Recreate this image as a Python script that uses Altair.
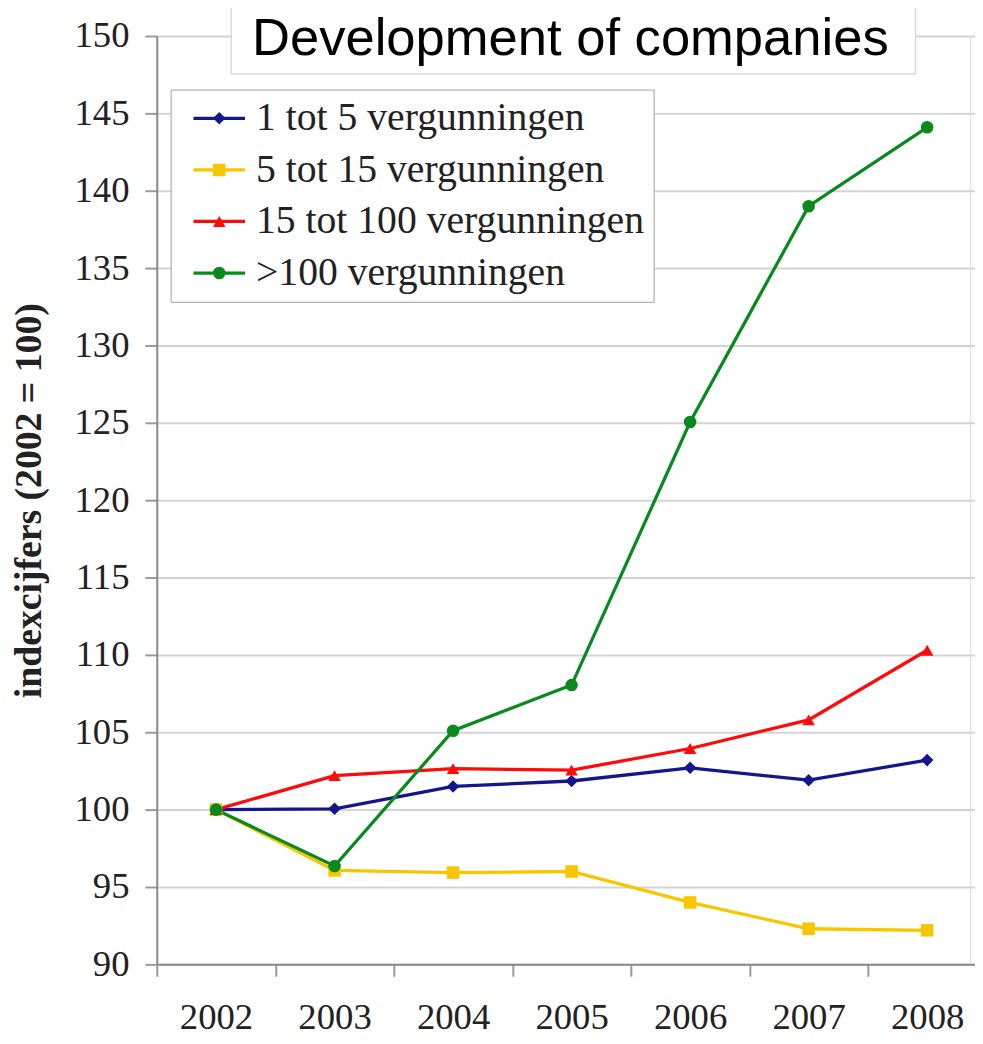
import altair as alt
import pandas as pd

years = ["2002", "2003", "2004", "2005", "2006", "2007", "2008"]
series_names = [
    "1 tot 5 vergunningen",
    "5 tot 15 vergunningen",
    "15 tot 100 vergunningen",
    ">100 vergunningen",
]
s_1_5 = [100.0, 100.05, 101.5, 101.85, 102.7, 101.9, 103.2]
s_5_15 = [100.0, 96.07, 95.93, 96.0, 94.0, 92.3, 92.2]
s_15_100 = [100.0, 102.2, 102.65, 102.55, 103.95, 105.8, 110.3]
s_100 = [100.0, 96.35, 105.1, 108.05, 125.05, 139.0, 144.1]
y_ticks = [90, 95, 100, 105, 110, 115, 120, 125, 130, 135, 140, 145, 150]
title_text = "Development of companies"

colors = ["#14168c", "#f7c600", "#ff0a0a", "#0a8a1e"]
shapes = ["diamond", "square", "triangle-up", "circle"]

rows = []
for name, vals in zip(series_names, [s_1_5, s_5_15, s_15_100, s_100]):
    for yr, v in zip(years, vals):
        rows.append({"year": yr, "value": v, "series": name})
df = pd.DataFrame(rows)

SERIF = "Liberation Serif"

x_enc = alt.X(
    "year:N",
    sort=years,
    scale=alt.Scale(type="band", range=[0, 836.5], paddingInner=0, paddingOuter=0),
    axis=alt.Axis(
        title=None, labelAngle=0, tickBand="extent", grid=False,
        labelFont=SERIF, labelFontSize=37, labelColor="#222",
        labelPadding=24, tickSize=12, tickWidth=2, tickColor="#9a9a9a",
        domainColor="#8a8a8a", domainWidth=2,
    ),
)
y_enc = alt.Y(
    "value:Q",
    scale=alt.Scale(domain=[90, 150], nice=False, zero=False),
    axis=alt.Axis(
        values=y_ticks, title="indexcijfers (2002 = 100)",
        titleFont=SERIF, titleFontSize=38, titleFontWeight="bold", titleColor="#222",
        titlePadding=26,
        labelFont=SERIF, labelFontSize=37, labelColor="#222", labelPadding=16,
        tickSize=12, tickWidth=2, tickColor="#9a9a9a",
        gridColor="#d4d4d4", gridWidth=2,
        domainColor="#8a8a8a", domainWidth=2,
    ),
)

legend_common = dict(
    orient="none", title=None, labelFont=SERIF, labelFontSize=40,
    labelLimit=0, padding=9, rowPadding=12, clipHeight=40, legendY=54,
)

one = pd.DataFrame({"k": [0]})
box = alt.Chart(one).mark_rect(
    fill="white", stroke="#d9d9d9", strokeWidth=1.5
).encode(x=alt.value(75), x2=alt.value(765), y=alt.value(-40), y2=alt.value(38))

title = alt.Chart(one).mark_text(
    font="Liberation Sans", fontSize=53, color="black",
    align="center", baseline="alphabetic",
).encode(text=alt.value(title_text), x=alt.value(417), y=alt.value(19))

lines = alt.Chart(df).mark_line(strokeWidth=3.3).encode(
    x=x_enc,
    y=y_enc,
    color=alt.Color(
        "series:N",
        scale=alt.Scale(domain=series_names, range=colors),
        legend=alt.Legend(
            legendX=14, symbolType="stroke", symbolSize=2704,
            symbolStrokeWidth=3.3, symbolOffset=12, labelOffset=9,
            labelColor="#222", fillColor="white", strokeColor="#a0a0a0",
            **legend_common,
        ),
    ),
    order=alt.Order("year:N"),
)

point_legend = alt.Legend(
    legendX=34, symbolSize=160, labelExpr="''", **legend_common,
)
points = alt.Chart(df).mark_point(filled=True, size=160, opacity=1).encode(
    x=x_enc,
    y=y_enc,
    color=alt.Color(
        "series:N",
        scale=alt.Scale(domain=series_names, range=colors),
        legend=point_legend,
    ),
    shape=alt.Shape(
        "series:N",
        scale=alt.Scale(domain=series_names, range=shapes),
        legend=point_legend,
    ),
)

chart = (
    alt.layer(box, title, lines, points)
    .resolve_scale(color="independent", shape="independent")
    .properties(
        width=820,
        height=936,
        autosize=alt.AutoSizeParams(type="none"),
        padding={"left": 150, "top": 24, "right": 5, "bottom": 68},
    )
    .configure_view(stroke="#dcdcdc", strokeWidth=1.5)
    .configure(background="white")
)

chart.save("out.html", embed_options={"renderer": "svg", "actions": False})
